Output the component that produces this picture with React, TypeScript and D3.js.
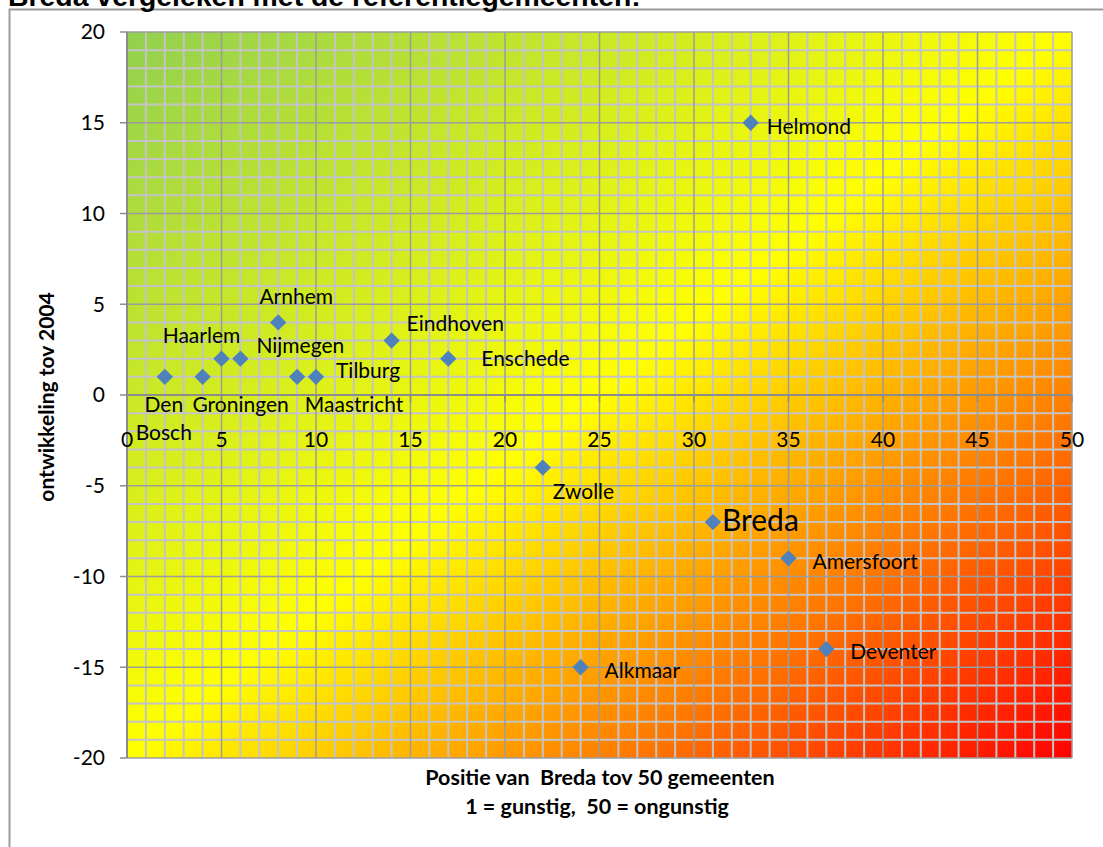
import React from "react";
import * as d3 from "d3";

// ---- data ----
const cities = ["Den Bosch", "Groningen", "Haarlem", "Nijmegen", "Arnhem", "Maastricht", "Tilburg", "Eindhoven", "Enschede", "Zwolle", "Breda", "Helmond", "Amersfoort", "Deventer", "Alkmaar"];
const positie = [2, 4, 5, 6, 8, 9, 10, 14, 17, 22, 31, 33, 35, 37, 24];
const ontwikkeling = [1, 1, 2, 2, 4, 1, 1, 3, 2, -4, -7, 15, -9, -14, -15];
const xTicks = [0, 5, 10, 15, 20, 25, 30, 35, 40, 45, 50];
const yTicks = [-20, -15, -10, -5, 0, 5, 10, 15, 20];
const titleText = "Breda vergeleken met de referentiegemeenten:";
const yTitle = "ontwikkeling tov 2004";
const xTitle1 = "Positie van  Breda tov 50 gemeenten";
const xTitle2 = "1 = gunstig,  50 = ongunstig";

// label placement (layout, not data)
const labelPlacement: Record<string, { anchor: string; dx: number; dy: number; lines?: string[]; big?: boolean }> = {
  "Den Bosch": { anchor: "middle", dx: -1, dy: 28, lines: ["Den", "Bosch"] },
  Groningen: { anchor: "middle", dx: 38, dy: 28 },
  Haarlem: { anchor: "middle", dx: -20, dy: -23 },
  Nijmegen: { anchor: "start", dx: 16, dy: -13 },
  Arnhem: { anchor: "middle", dx: 18, dy: -26 },
  Maastricht: { anchor: "middle", dx: 57, dy: 28 },
  Tilburg: { anchor: "start", dx: 20, dy: -6 },
  Eindhoven: { anchor: "start", dx: 15, dy: -17 },
  Enschede: { anchor: "start", dx: 33, dy: 0 },
  Zwolle: { anchor: "start", dx: 10, dy: 24 },
  Breda: { anchor: "start", dx: 9, dy: -2, big: true },
  Helmond: { anchor: "start", dx: 16, dy: 4 },
  Amersfoort: { anchor: "start", dx: 24, dy: 3 },
  Deventer: { anchor: "start", dx: 24, dy: 3 },
  Alkmaar: { anchor: "start", dx: 24, dy: 3 },
};

const FONT = "Lato, 'Liberation Sans', sans-serif";

export default function App() {
  const W = 1103, H = 847;
  const x = d3.scaleLinear().domain([0, 50]).range([127, 1072]);
  const y = d3.scaleLinear().domain([-20, 20]).range([758, 32]);
  const minorX = d3.range(0, 51, 1);
  const minorY = d3.range(-20, 21, 1);
  const [x0, x1] = x.range();
  const [y0, y1] = y.range();
  const diamond = d3.symbol().type(d3.symbolDiamond2).size(170)();

  return (
    <svg width={W} height={H} style={{ position: "absolute", left: 0, top: 0, background: "#fff" }}>
      <defs>
        <linearGradient id="bg" x1="0" y1="0" x2="1" y2="1">
          <stop offset="0" stopColor="#92D050" />
          <stop offset="0.5" stopColor="#FFFF00" />
          <stop offset="1" stopColor="#FF0000" />
        </linearGradient>
      </defs>
      {/* chart border */}
      <path d={`M9.5,${H + 5} V9.5 H${W + 5}`} fill="none" stroke="#9c9c9c" strokeWidth={2} />
      {/* title */}
      <text x={8} y={6} fontFamily="'Liberation Sans', Arial, sans-serif" fontWeight="bold" fontSize={28.4} fill="#000">
        {titleText}
      </text>
      {/* plot area */}
      <rect x={x0} y={y1} width={x1 - x0} height={y0 - y1} fill="url(#bg)" />
      {/* minor grid */}
      {minorX.filter((v) => v % 5 !== 0).map((v) => (
        <line key={"mx" + v} x1={x(v)} x2={x(v)} y1={y1} y2={y0} stroke="#c4c4c4" strokeWidth={2} />
      ))}
      {minorY.filter((v) => v % 5 !== 0).map((v) => (
        <line key={"my" + v} y1={y(v)} y2={y(v)} x1={x0} x2={x1} stroke="#c4c4c4" strokeWidth={2} />
      ))}
      {/* major grid */}
      {xTicks.map((v) => (
        <line key={"Mx" + v} x1={x(v)} x2={x(v)} y1={y1} y2={y0} stroke="#9c9c9c" strokeWidth={1.5} />
      ))}
      {yTicks.map((v) => (
        <line key={"My" + v} y1={y(v)} y2={y(v)} x1={x0} x2={x1} stroke="#9c9c9c" strokeWidth={1.5} />
      ))}
      {/* axes */}
      <line x1={x(0)} x2={x(0)} y1={y1} y2={y0} stroke="#8c8c8c" strokeWidth={2} />
      <line x1={x0} x2={x1} y1={y(0)} y2={y(0)} stroke="#8c8c8c" strokeWidth={2} />
      {yTicks.map((v) => (
        <line key={"ty" + v} x1={x(0) - 7} x2={x(0)} y1={y(v)} y2={y(v)} stroke="#8c8c8c" strokeWidth={1.5} />
      ))}
      {xTicks.map((v) => (
        <line key={"tx" + v} x1={x(v)} x2={x(v)} y1={y(0)} y2={y(0) + 7} stroke="#8c8c8c" strokeWidth={1.5} />
      ))}
      {/* tick labels */}
      {yTicks.map((v) => (
        <text key={"ly" + v} x={105} y={y(v)} dy="0.35em" textAnchor="end" fontFamily={FONT} fontSize={21} fill="#000">
          {v}
        </text>
      ))}
      {xTicks.map((v) => (
        <text key={"lx" + v} x={x(v)} y={y(0) + 45} dy="0.35em" textAnchor="middle" fontFamily={FONT} fontSize={21} fill="#000">
          {v}
        </text>
      ))}
      {/* axis titles */}
      <text transform="translate(47,397) rotate(-90)" dy="0.35em" textAnchor="middle" fontFamily={FONT} fontWeight="bold" fontSize={21} fill="#000">
        {yTitle}
      </text>
      <text x={600} y={777} dy="0.35em" textAnchor="middle" fontFamily={FONT} fontWeight="bold" fontSize={21.5} fill="#000" style={{ whiteSpace: "pre" }}>
        {xTitle1}
      </text>
      <text x={597} y={806} dy="0.35em" textAnchor="middle" fontFamily={FONT} fontWeight="bold" fontSize={21.5} fill="#000" style={{ whiteSpace: "pre" }}>
        {xTitle2}
      </text>
      {/* points */}
      {cities.map((c, i) => (
        <path key={"p" + c} d={diamond as string} transform={`translate(${x(positie[i])},${y(ontwikkeling[i])})`} fill="#4F81BD" />
      ))}
      {/* labels */}
      {cities.map((c, i) => {
        const p = labelPlacement[c];
        const px = x(positie[i]) + p.dx;
        const py = y(ontwikkeling[i]) + p.dy;
        const lines = p.lines || [c];
        return (
          <text key={"t" + c} x={px} y={py} textAnchor={p.anchor} fontFamily={FONT} fontSize={p.big ? 30 : 21} fill="#000">
            {lines.map((l, j) => (
              <tspan key={j} x={px} y={py + j * 28} dy="0.35em">
                {l}
              </tspan>
            ))}
          </text>
        );
      })}
    </svg>
  );
}
